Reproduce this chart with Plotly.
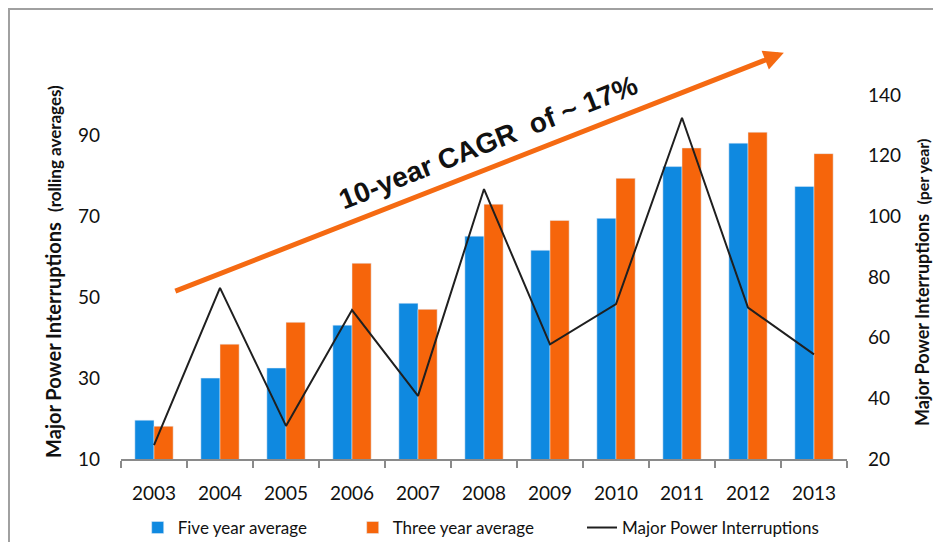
import plotly.graph_objects as go

years = ["2003", "2004", "2005", "2006", "2007", "2008", "2009", "2010", "2011", "2012", "2013"]
five_year_avg = [19.6, 30.0, 32.5, 43.1, 48.5, 65.1, 61.6, 69.5, 82.3, 88.1, 77.4]
three_year_avg = [18.1, 38.4, 43.8, 58.4, 47.0, 73.0, 69.0, 79.4, 86.9, 90.8, 85.5]
major_interruptions = [24.6, 76.4, 30.9, 69.1, 40.8, 109.0, 57.8, 71.1, 132.5, 69.9, 54.5]

left_ticks = [10, 30, 50, 70, 90]
right_ticks = [20, 40, 60, 80, 100, 120, 140]

BLUE = "#0F89E0"
ORANGE = "#F6650B"
ARROW = "#F56A12"
FONT = "Lato"

fig = go.Figure()
fig.add_trace(go.Bar(
    x=years, y=five_year_avg, name="Five year average",
    marker={"color": BLUE}, yaxis="y", legend="legend",
))
fig.add_trace(go.Bar(
    x=years, y=three_year_avg, name="Three year average",
    marker={"color": ORANGE}, yaxis="y", legend="legend",
))
fig.add_trace(go.Scatter(
    x=years, y=major_interruptions, name="Major Power Interruptions",
    mode="lines", line={"color": "#1f1f1f", "width": 2}, yaxis="y2",
    legend="legend2",
))

# наклонная стрелка и подпись CAGR
fig.add_annotation(
    x=0.913, y=1.116, xref="paper", yref="paper",
    ax=-610, ay=239, axref="pixel", ayref="pixel",
    showarrow=True, arrowhead=2, arrowsize=0.8, arrowwidth=5,
    arrowcolor=ARROW, text="",
)
fig.add_annotation(
    x=0.505, y=0.87, xref="paper", yref="paper",
    xanchor="center", yanchor="middle",
    text="<b>10-year CAGR  of ~ 17%</b>", showarrow=False, textangle=-21.6,
    font={"family": "Liberation Sans", "size": 28, "color": "#111"},
)

# подписи осей
fig.add_annotation(
    x=0, y=0.514, xref="paper", yref="paper", xshift=-68,
    xanchor="center", yanchor="middle",
    text="<b>Major Power Interruptions</b>  <b><span style='font-size:17px'>(rolling averages)</span></b>",
    showarrow=False, textangle=-90,
    font={"family": FONT, "size": 20, "color": "#111"},
)
fig.add_annotation(
    x=1, y=0.4835, xref="paper", yref="paper", xshift=75,
    xanchor="center", yanchor="middle",
    text="<b>Major Power Interruptions</b>  <b><span style='font-size:16px'>(per year)</span></b>",
    showarrow=False, textangle=-90,
    font={"family": FONT, "size": 18, "color": "#111"},
)

# рамка вокруг диаграммы
fig.add_shape(
    type="rect", xref="paper", yref="paper",
    x0=-0.1543, x1=1.3, y0=-0.6, y1=1.2363,
    line={"color": "#A0A0A0", "width": 2},
)

# у страницы отступ 8px, поэтому фигура чуть меньше окна
fig.update_layout(
    width=925, height=534,
    paper_bgcolor="white", plot_bgcolor="white",
    margin={"l": 113, "r": 86, "t": 87, "b": 83, "autoexpand": False},
    barmode="group", bargap=0.42, bargroupgap=0,
    font={"family": FONT, "size": 19, "color": "#111"},
    xaxis={
        "showline": True, "linecolor": "#8A8A8A", "linewidth": 1.5,
        "ticks": "outside", "tickson": "boundaries", "ticklen": 7,
        "tickcolor": "#8A8A8A", "tickwidth": 1.5, "showgrid": False,
        "tickfont": {"size": 19}, "ticklabelstandoff": 16,
    },
    yaxis={
        "range": [10, 100], "tickvals": left_ticks, "showgrid": False,
        "zeroline": False, "showline": False, "ticklabelstandoff": 20,
    },
    yaxis2={
        "range": [20, 140], "tickvals": right_ticks, "showgrid": False,
        "zeroline": False, "showline": False, "overlaying": "y",
        "side": "right", "ticklabelstandoff": 20,
    },
    legend={
        "orientation": "h", "x": 0.023, "xanchor": "left",
        "y": -0.14, "yanchor": "top", "entrywidth": 170,
        "font": {"size": 17}, "traceorder": "normal",
    },
    legend2={
        "orientation": "h", "x": 0.635, "xanchor": "left",
        "y": -0.14, "yanchor": "top",
        "font": {"size": 17},
    },
    showlegend=True,
)

fig.write_html("out.html")
